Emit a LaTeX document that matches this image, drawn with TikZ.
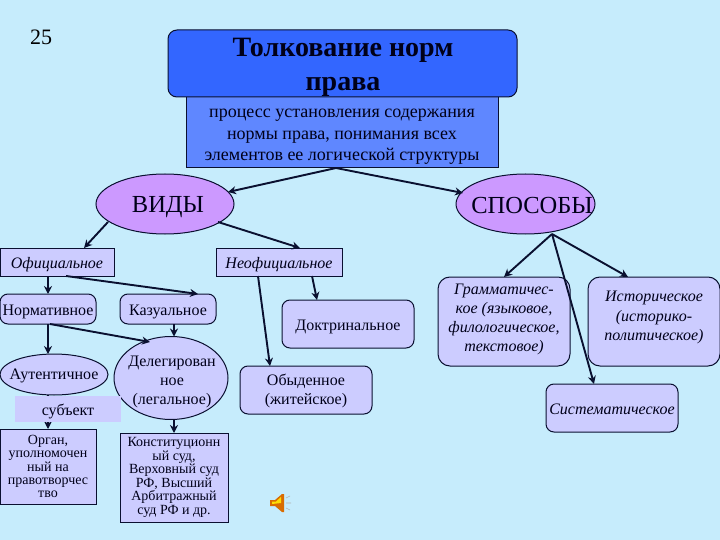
\documentclass[tikz,border=0pt]{standalone}
\usepackage{fontspec}
\setmainfont{Liberation Serif}
\usetikzlibrary{shapes.geometric,arrows.meta}
\definecolor{bgc}{HTML}{C6ECFC}
\definecolor{titlec}{HTML}{3366FF}
\definecolor{defc}{HTML}{5F87FF}
\definecolor{ovalc}{HTML}{CC99FF}
\definecolor{lavc}{HTML}{CCCCFF}
\definecolor{linec}{HTML}{0A1030}
\tikzset{
  x=1pt,y=-1pt,
  base/.style={draw=linec,line width=1pt,align=center,inner sep=0pt,outer sep=0pt,text=black!90!blue},
  sq/.style={base,rectangle,fill=lavc},
  rnd/.style={base,rectangle,rounded corners=8pt,fill=lavc},
  ova/.style={base,ellipse,fill=lavc},
  big/.style={base,ellipse,fill=ovalc},
  arr/.style={draw=linec,line width=1.9pt,-{Stealth[length=8pt,width=8pt]}},
  dim/.style 2 args={minimum width=#1pt,minimum height=#2pt},
  low/.style={text height=17pt,text depth=3.5pt},
  tx/.style={align=center,inner sep=0pt,text=black!90!blue},
  plainf/.style={font=\fontsize{16}{19}\selectfont},
  itf/.style={font=\fontsize{16}{19.3}\itshape\selectfont},
  smallf/.style={font=\fontsize{14}{13.45}\selectfont},
}
\begin{document}
\begin{tikzpicture}
\useasboundingbox (0,0) rectangle (720,540);
\fill[bgc] (0,0) rectangle (720,540);

\node[font=\fontsize{22}{26}\selectfont] (num) at (41,37) {25};

\node[sq,fill=defc,dim={312}{71}] (def) at (342,132.5) {};
\node[tx,font=\fontsize{18}{21.7}\selectfont] (deft) at (342,137) {процесс установления содержания\\нормы права, понимания всех\\элементов ее логической структуры};
\node[base,rectangle,rounded corners=9pt,fill=titlec,dim={349}{67}] (title) at (342.5,63.5) {};
\node[tx,font=\fontsize{28}{34}\bfseries\selectfont] (titlet) at (343,67) {Толкование норм\\права};

\node[big,dim={138}{60}] (vid) at (165,204) {};
\node[tx,font=\fontsize{24.5}{30}\selectfont] (vidt) at (168,207) {ВИДЫ};
\node[big,dim={139}{60}] (spo) at (525.5,204) {};
\node[tx,font=\fontsize{24.5}{30}\selectfont] (spot) at (532,206) {СПОСОБЫ};

\node[sq,low,dim={114}{28},itf] (off) at (57,262) {Официальное};
\node[sq,low,dim={126}{28},itf] (neo) at (279,262) {Неофициальное};
\node[rnd,low,dim={96}{30},plainf] (nor) at (48,309) {Нормативное};
\node[rnd,low,dim={96}{30},plainf] (kaz) at (168,309) {Казуальное};
\node[rnd,low,dim={132}{48},plainf] (dok) at (348,324) {Доктринальное};
\node[ova,dim={108}{41}] (aut) at (54,374.5) {};
\node[tx,plainf] (autt) at (54,375.5) {Аутентичное};
\node[ova,dim={114}{83}] (del) at (171,378) {};
\node[tx,plainf] (delt) at (172,382) {Делегирован\\ное\\(легальное)};
\node[rnd,dim={132}{48}] (oby) at (306,390) {};
\node[tx,plainf] (obyt) at (306,391) {Обыденное\\(житейское)};
\node[sq,dim={96}{75},smallf] (org) at (48,466.5) {Орган,\\уполномочен\\ный на\\правотворчес\\тво};
\node[sq,dim={108}{89},smallf] (kon) at (174,477.5) {Конституционн\\ый суд,\\Верховный суд\\РФ, Высший\\Арбитражный\\суд РФ и др.};

\node[rnd,rounded corners=12pt,dim={132}{89}] (gra) at (504,321.5) {};
\node[tx,itf] (grat) at (504,319.5) {Грамматичес-\\кое (языковое,\\филологическое,\\текстовое)};
\node[rnd,rounded corners=12pt,dim={132}{89}] (ist) at (654,321.5) {};
\node[tx,itf] (istt) at (654,317.5) {Историческое\\(историко-\\политическое)};
\node[rnd,low,dim={132}{48},itf] (sis) at (612,408) {Систематическое};

\draw[arr] ([xshift=-6pt]def.south) -- ([xshift=63pt,yshift=12pt]vid.center);
\draw[arr] ([xshift=-6pt]def.south) -- ([xshift=-62.5pt,yshift=11pt]spo.center);
\draw[arr] ([xshift=-57pt,yshift=-18pt]vid.center) -- ([xshift=27pt]off.north);
\draw[arr] ([xshift=53pt,yshift=-18pt]vid.center) -- ([xshift=21pt]neo.north);
\draw[arr] ([xshift=-9pt]off.south) -- (nor.north);
\draw[arr] ([xshift=9pt]off.south) -- ([xshift=30pt]kaz.north);
\draw[arr] (nor.south) -- ([xshift=-6pt]aut.north);
\draw[arr] ([xshift=2pt]nor.south) -- ([xshift=-21pt,yshift=36pt]del.center);
\draw[arr] ([xshift=6pt]kaz.south) -- ([xshift=3pt]del.north);
\draw[arr] ([xshift=-21pt]neo.south) -- ([xshift=-36pt]oby.north);
\draw[arr] ([xshift=33pt]neo.south) -- ([xshift=-31pt]dok.north);
\draw[arr] ([xshift=3pt]del.south) -- (kon.north);
\draw[arr] ([xshift=-6pt]aut.south) -- (org.north);
\coordinate (spb) at ([xshift=26.5pt]spo.south);
\draw[arr] (spb) -- (gra.north);
\draw[arr] (spb) -- ([xshift=-26pt]ist.north);
\draw[arr] (spb) -- ([xshift=-18pt]sis.north);

\node[rectangle,fill=lavc,low,minimum width=106pt,minimum height=26pt,inner sep=0pt,plainf,text=black!90!blue] (sub) at (68,409) {субъект};

% sound icon
\fill[orange!85!black] (270,500) -- (275,500) -- (282,494) -- (284,494) -- (284,512) -- (282,512) -- (275,506) -- (270,506) -- cycle;
\fill[yellow!80!orange] (272,501.5) -- (276,501.5) -- (281,497) -- (281,503) -- (272,504) -- cycle;
\draw[gray!60!white,line width=0.6pt] (286,498) -- (290,496) (286,503) -- (291,503) (286,508) -- (290,510);
\end{tikzpicture}
\end{document}
